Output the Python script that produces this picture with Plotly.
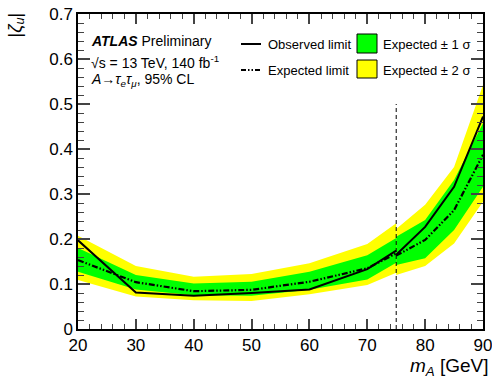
import plotly.graph_objects as go

# Low-mass selection (20-75 GeV)
mA_low = [20, 30, 40, 50, 60, 70, 75]
obs_low = [0.197, 0.081, 0.074, 0.080, 0.088, 0.133, 0.174]
exp_low = [0.153, 0.104, 0.084, 0.087, 0.105, 0.135, 0.168]
p1_low = [0.180, 0.120, 0.101, 0.105, 0.127, 0.164, 0.202]
m1_low = [0.127, 0.088, 0.075, 0.074, 0.087, 0.110, 0.147]
p2_low = [0.207, 0.140, 0.116, 0.122, 0.146, 0.189, 0.235]
m2_low = [0.109, 0.072, 0.064, 0.062, 0.077, 0.098, 0.125]

# High-mass selection (75-90 GeV)
mA_high = [75, 80, 85, 90]
obs_high = [0.165, 0.227, 0.316, 0.472]
exp_high = [0.163, 0.198, 0.264, 0.387]
p1_high = [0.205, 0.242, 0.331, 0.457]
m1_high = [0.142, 0.157, 0.220, 0.316]
p2_high = [0.222, 0.276, 0.360, 0.542]
m2_high = [0.120, 0.140, 0.190, 0.283]

boundary_mass = 75
boundary_top = 0.5

GREEN = "#00ff00"
YELLOW = "#ffff00"
EXP_DASH = "6px,2px,1.5px,2px,1.5px,2px"
FONT = "Liberation Sans, Arial, sans-serif"

fig = go.Figure()

segments = [
    (mA_low, m2_low, p2_low, m1_low, p1_low),
    (mA_high, m2_high, p2_high, m1_high, p1_high),
]
for x, lo2, hi2, lo1, hi1 in segments:
    fig.add_trace(go.Scatter(x=x + x[::-1], y=hi2 + lo2[::-1], fill="toself",
                             fillcolor=YELLOW, line=dict(width=0), mode="lines",
                             hoverinfo="skip", showlegend=False))
for x, lo2, hi2, lo1, hi1 in segments:
    fig.add_trace(go.Scatter(x=x + x[::-1], y=hi1 + lo1[::-1], fill="toself",
                             fillcolor=GREEN, line=dict(width=0), mode="lines",
                             hoverinfo="skip", showlegend=False))

for x, e in [(mA_low, exp_low), (mA_high, exp_high)]:
    fig.add_trace(go.Scatter(x=x, y=e, mode="lines",
                             line=dict(color="black", width=2.2, dash=EXP_DASH),
                             showlegend=False))
for x, o in [(mA_low, obs_low), (mA_high, obs_high)]:
    fig.add_trace(go.Scatter(x=x, y=o, mode="lines",
                             line=dict(color="black", width=2),
                             showlegend=False))

fig.add_shape(type="line", x0=boundary_mass, x1=boundary_mass, y0=0, y1=boundary_top,
              xref="x", yref="y", line=dict(color="black", width=1, dash="4px,3px"))

# Plot area geometry in pixels
L, R, T, B = 78, 483, 14, 329
W, H = R - L, B - T
def px(xp):
    return (xp - L) / W
def py(yp):
    return (B - yp) / H

# Legend (manual)
fig.add_shape(type="line", xref="paper", yref="paper", x0=px(241), x1=px(261),
              y0=py(44), y1=py(44), line=dict(color="black", width=2))
fig.add_shape(type="line", xref="paper", yref="paper", x0=px(241), x1=px(261),
              y0=py(70), y1=py(70), line=dict(color="black", width=2, dash="5px,2px,1.5px,2px,1.5px,2px"))
fig.add_shape(type="rect", xref="paper", yref="paper", x0=px(357), x1=px(377),
              y0=py(53), y1=py(34), fillcolor=GREEN, line=dict(color="black", width=1))
fig.add_shape(type="rect", xref="paper", yref="paper", x0=px(357), x1=px(377),
              y0=py(78), y1=py(60), fillcolor=YELLOW, line=dict(color="black", width=1))

def text(xp, yp, s, size=13, xanchor="left"):
    fig.add_annotation(xref="paper", yref="paper", x=px(xp), y=py(yp), text=s,
                       showarrow=False, xanchor=xanchor, yanchor="middle",
                       font=dict(family=FONT, size=size, color="black"))

text(266, 44, "Observed limit")
text(266, 70, "Expected limit")
text(381, 44, "Expected ± 1 σ")
text(381, 70, "Expected ± 2 σ")

text(89, 41, "<b><i>ATLAS</i></b> Preliminary", size=14)
text(89, 62, "√s = 13 TeV, 140 fb<sup>-1</sup>", size=14)
text(89, 80, "<i>A</i>→<i>τ<sub>e</sub>τ<sub>μ</sub></i>, 95% CL", size=14)

# Axis titles
fig.add_annotation(xref="paper", yref="paper", x=px(16), y=py(11), text="|<i>ζ<sub>u</sub></i>|",
                   textangle=-90, showarrow=False, xanchor="center", yanchor="top",
                   font=dict(family=FONT, size=18, color="black"))
fig.add_annotation(xref="paper", yref="paper", x=px(408), y=py(367),
                   text="<i>m<sub>A</sub></i> [GeV]",
                   showarrow=False, xanchor="left", yanchor="middle",
                   font=dict(family=FONT, size=19, color="black"))

fig.update_layout(
    width=492, height=382,
    margin=dict(l=L, r=492 - R, t=T, b=382 - B, autoexpand=False),
    paper_bgcolor="white", plot_bgcolor="white",
    font=dict(family=FONT, size=17, color="black"),
    showlegend=False,
)
fig.update_xaxes(range=[20, 90], dtick=10, tick0=20, ticks="inside", ticklen=10,
                 tickwidth=1.5, mirror="allticks", showline=True, linecolor="black",
                 linewidth=1.5, showgrid=False, zeroline=False, automargin=False,
                 ticklabeloverflow="allow",
                 minor=dict(dtick=2, ticks="inside", ticklen=5, tickwidth=1.2, showgrid=False),
                 tickfont=dict(size=17))
fig.update_yaxes(range=[0, 0.7], dtick=0.1, tick0=0, ticks="inside", ticklen=12,
                 tickwidth=1.5, mirror="allticks", showline=True, linecolor="black",
                 linewidth=1.5, showgrid=False, zeroline=False, automargin=False,
                 ticklabeloverflow="allow",
                 minor=dict(dtick=0.02, ticks="inside", ticklen=6, tickwidth=1.2, showgrid=False),
                 tickfont=dict(size=17))

fig.write_html("out.html")
